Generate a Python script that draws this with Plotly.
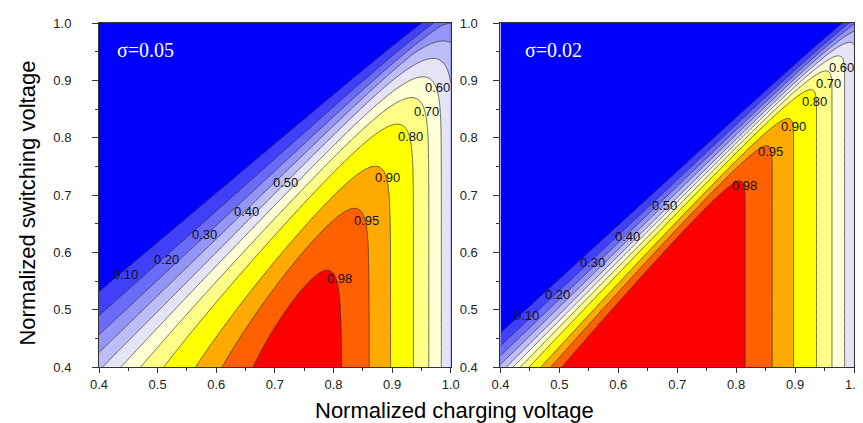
import numpy as np
import plotly.graph_objects as go
from math import erf, sqrt

# ---------------- data ----------------
levels = [0.10, 0.20, 0.30, 0.40, 0.50, 0.60, 0.70, 0.80, 0.90, 0.95, 0.98]
level_labels = ["0.10", "0.20", "0.30", "0.40", "0.50", "0.60", "0.70", "0.80", "0.90", "0.95", "0.98"]
band_colors = ["#0000FF", "#4040FB", "#6B6BFA", "#9595F8", "#BDBDF7", "#E4E4F6",
               "#FFFFD6", "#FFFF88", "#FFFF00", "#FFAA00", "#FF6000", "#FF0000"]

sigma_text = ["σ=0.05", "σ=0.02"]
# diagonal transition (probability 0.5 line and transition widths)
centre_x_at_04 = [0.406, 0.410]     # x where value = 0.5 on the line y = 0.4
centre_slope = [1.03, 1.02]         # slope of the 0.5 line
width_low_at_04 = [0.124, 0.057]    # width on the low-value side at y = 0.4
width_low_shrink = [0.15, 0.065]    # decrease of that width per unit y
width_high_at_04 = [0.124, 0.046]   # width on the high-value side at y = 0.4
width_high_floor = [0.050, 0.010]   # width on the high-value side far up
width_high_decay = [3.43, 2.0]      # how fast it approaches the floor
# roll-off near charging voltage 1.0 (same in both panels)
rolloff_mid = 1.0037
rolloff_scale = 0.0485

# contour-label positions (x, y) for each level
lab_x_05 = [0.446, 0.516, 0.580, 0.651, 0.718, 0.977, 0.959, 0.932, 0.893, 0.856, 0.810]
lab_y_05 = [0.562, 0.587, 0.631, 0.672, 0.721, 0.887, 0.846, 0.802, 0.730, 0.656, 0.554]
lab_x_02 = [0.444, 0.497, 0.556, 0.616, 0.678, 0.978, 0.957, 0.933, 0.897, 0.859, 0.815]
lab_y_02 = [0.490, 0.527, 0.583, 0.628, 0.682, 0.923, 0.894, 0.863, 0.820, 0.776, 0.716]

tick_vals = [0.4, 0.5, 0.6, 0.7, 0.8, 0.9, 1.0]
tick_text = ["0.4", "0.5", "0.6", "0.7", "0.8", "0.9", "1.0"]

# ---------------- field ----------------
xs = np.linspace(0.4, 1.0, 301)
ys = np.linspace(0.4, 1.0, 301)
X, Y = np.meshgrid(xs, ys)
verf = np.vectorize(erf)


def field(i):
    t = Y - 0.4
    c = centre_x_at_04[i] + t / centre_slope[i]
    w_lo = np.maximum(width_low_at_04[i] - width_low_shrink[i] * t, 0.006)
    w_hi = width_high_floor[i] + (width_high_at_04[i] - width_high_floor[i]) * np.exp(-width_high_decay[i] * t)
    u = X - c
    q = np.where(u < 0, u / w_lo, u / w_hi)
    d = 0.5 * (1 + verf(q / sqrt(2)))
    r = 1.0 / (1.0 + np.exp(-(rolloff_mid - X) / rolloff_scale))
    z = d * r
    # map onto band index so that the uneven levels become evenly spaced
    return np.interp(z, [0.0] + levels + [1.0], list(range(len(levels) + 2)))


nb = len(band_colors)
colorscale = [[k / (nb - 1), band_colors[k]] for k in range(nb)]

fig = go.Figure()
for i, (xa, ya) in enumerate([("x", "y"), ("x2", "y2")]):
    fig.add_trace(go.Contour(
        x=xs, y=ys, z=field(i), xaxis=xa, yaxis=ya,
        contours=dict(start=1, end=len(levels), size=1, coloring="fill"),
        colorscale=colorscale, zmin=0, zmax=len(levels) + 1,
        line=dict(color="#303030", width=0.7),
        showscale=False, hoverinfo="skip"))

ann = []
for i, (lx, ly, xr, yr) in enumerate([(lab_x_05, lab_y_05, "x", "y"), (lab_x_02, lab_y_02, "x2", "y2")]):
    for t, px, py in zip(level_labels, lx, ly):
        ann.append(dict(x=px, y=py, xref=xr, yref=yr, text=t, showarrow=False,
                        font=dict(family="Liberation Sans, Arial", size=13, color="#111")))
    ann.append(dict(x=0.428 if i == 0 else 0.438, y=0.953, xref=xr, yref=yr, text=sigma_text[i],
                    showarrow=False, xanchor="left",
                    font=dict(family="Liberation Serif, Times New Roman", size=20, color="white")))

ann.append(dict(x=0.471, y=-0.127, xref="paper", yref="paper", text="Normalized charging voltage",
                showarrow=False, xanchor="center", yanchor="middle",
                font=dict(family="Liberation Sans, Arial", size=22, color="black")))
ann.append(dict(x=-0.095, y=0.476, xref="paper", yref="paper", text="Normalized switching voltage",
                showarrow=False, textangle=-90, xanchor="center", yanchor="middle",
                font=dict(family="Liberation Sans, Arial", size=22, color="black")))

axis_common = dict(range=[0.4, 1.0], tickvals=tick_vals, ticktext=tick_text, ticks="outside",
                   tickwidth=1, tickcolor="#333", showline=True, linecolor="#333",
                   linewidth=1, mirror=True, showgrid=False, zeroline=False,
                   minor=dict(ticks="outside", ticklen=3, tickvals=[0.45, 0.55, 0.65, 0.75, 0.85, 0.95],
                              tickcolor="#333"),
                   tickfont=dict(family="Liberation Sans, Arial", size=13, color="#222"))

fig.update_layout(
    width=863, height=423, margin=dict(l=91, r=8, t=15, b=64),
    paper_bgcolor="white", plot_bgcolor="white", showlegend=False,
    xaxis=dict(domain=[0, 0.4658], anchor="y", ticklen=5, **axis_common),
    yaxis=dict(domain=[0, 1], anchor="x", ticklen=6, ticklabelstandoff=18, **axis_common),
    xaxis2=dict(domain=[0.5317, 1], anchor="y2", ticklen=5, **axis_common),
    yaxis2=dict(domain=[0, 1], anchor="x2", ticklen=6, ticklabelstandoff=13, **axis_common),
    annotations=ann)

fig.write_html("out.html")
